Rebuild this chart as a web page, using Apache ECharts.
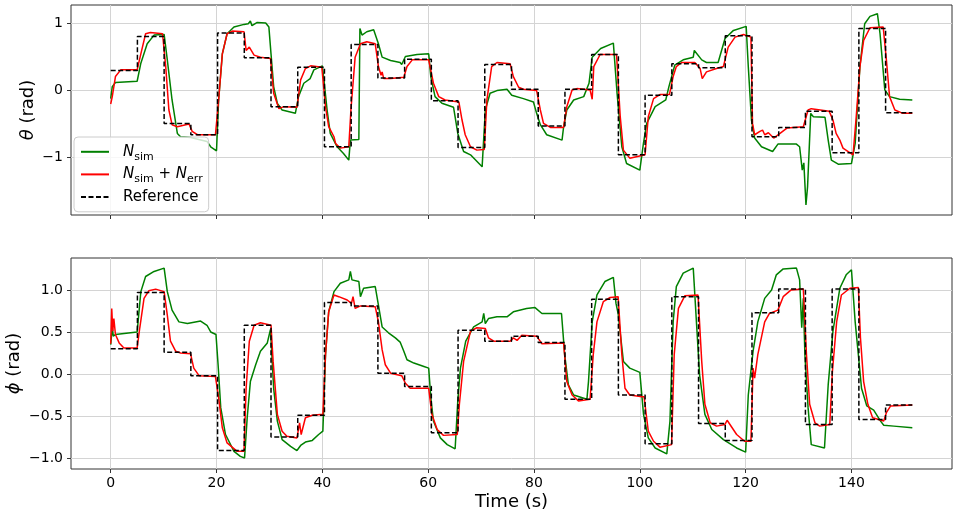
<!DOCTYPE html>
<html>
<head>
<meta charset="utf-8">
<script src="https://cdn.jsdelivr.net/npm/echarts@6/dist/echarts.min.js"></script>
<style>
  html, body { margin: 0; padding: 0; background: #fff; }
  #chart { width: 957px; height: 514px; }
</style>
</head>
<body>
<div id="chart"></div>
<script>
// tick values
const xTicks = [0, 20, 40, 60, 80, 100, 120, 140]
const thetaTicks = [-1, 0, 1]
const phiTicks = [-1, -0.5, 0, 0.5, 1]

// reference set-points, held from each step time to the next
const stepTimes = [0, 5.05, 10.1, 15.15, 20.2, 25.25, 30.3, 35.35, 40.4, 45.45, 50.5, 55.55, 60.6, 65.65, 70.7,
  75.75, 80.8, 85.85, 90.9, 95.95, 101.0, 106.05, 111.1, 116.15, 121.2, 126.25, 131.3, 136.35, 141.4, 146.45, 151.5]
const thetaRef = [0.30, 0.81, -0.49, -0.66, 0.86, 0.49, -0.24, 0.35, -0.84, 0.69, 0.19, 0.47, -0.15, -0.85, 0.39,
  0.02, -0.53, 0.02, 0.54, -0.96, -0.07, 0.40, 0.34, 0.82, -0.69, -0.55, -0.31, -0.93, 0.93, -0.33]
const phiRef = [0.30, 0.97, 0.26, -0.02, -0.91, 0.58, -0.75, -0.49, 0.85, 0.81, 0.01, -0.15, -0.70, 0.52, 0.39,
  0.45, 0.375, -0.30, 0.89, -0.25, -0.83, 0.92, -0.59, -0.79, 0.73, 1.01, -0.60, 1.01, -0.54, -0.37]

// theta, N_sim  [time, rad]
const thetaSim = [[0,-0.12],[0.3,0.06],[0.9,0.12],[5.0,0.14],[5.7,0.41],[6.9,0.70],[8.2,0.83],[10.1,0.84],[10.7,0.46],
  [11.6,-0.14],[12.6,-0.64],[13.2,-0.69],[15.1,-0.70],[18.2,-0.76],[18.9,-0.84],[20.0,-0.90],[20.4,-0.14],[21.1,0.55],
  [22.0,0.85],[23.3,0.95],[25.2,0.99],[26.0,1.00],[26.4,1.04],[26.7,0.97],[27.7,1.02],[29.3,1.01],[29.9,0.95],
  [30.3,0.55],[30.8,0.06],[31.5,-0.19],[32.4,-0.29],[34.9,-0.34],[35.5,-0.09],[36.5,0.11],[37.7,0.18],[38.4,0.31],
  [40.0,0.37],[40.3,0.16],[40.9,-0.29],[41.5,-0.64],[42.8,-0.84],[44.0,-0.94],[45.0,-1.04],[45.3,-0.74],[46.9,-0.73],
  [47.1,0.93],[47.5,0.83],[48.4,0.88],[49.7,0.91],[50.0,0.90],[50.6,0.70],[51.3,0.50],[52.9,0.45],[54.7,0.42],
  [55.0,0.39],[55.7,0.51],[57.9,0.54],[60.1,0.55],[60.5,0.21],[61.3,-0.09],[62.6,-0.19],[64.8,-0.25],[65.6,-0.64],
  [66.7,-0.91],[68.0,-0.96],[70.2,-1.14],[70.8,-0.29],[71.7,-0.04],[73.0,0.0],[74.9,0.02],[75.8,-0.07],[78.0,-0.12],
  [79.9,-0.17],[80.5,-0.34],[81.2,-0.51],[82.4,-0.66],[85.3,-0.74],[85.6,-0.54],[86.2,-0.29],[87.5,-0.14],[89.4,-0.09],
  [90.4,0.11],[91.0,0.50],[92.6,0.63],[95.0,0.71],[95.7,-0.04],[96.6,-0.84],[97.5,-1.09],[100.0,-1.19],[100.7,-0.78],
  [101.3,-0.49],[102.9,-0.24],[104.9,-0.14],[105.5,0.06],[106.6,0.38],[108.2,0.46],[110.1,0.50],[110.3,0.60],
  [111.7,0.46],[112.6,0.42],[114.8,0.42],[116.1,0.78],[117.7,0.90],[120.1,0.96],[120.5,0.36],[121.1,-0.44],
  [121.7,-0.71],[123.0,-0.84],[125.1,-0.91],[126.1,-0.80],[129.6,-0.80],[130.2,-0.84],[130.7,-1.19],[131.0,-1.08],
  [131.4,-1.71],[131.7,-1.44],[132.3,-0.34],[132.8,-0.39],[135.0,-0.40],[135.6,-0.74],[136.2,-1.04],[137.5,-1.10],
  [140.0,-1.09],[140.7,-0.79],[141.6,0.36],[142.5,1.00],[143.5,1.11],[144.9,1.15],[145.4,0.85],[146.3,0.01],
  [147.2,-0.09],[149.1,-0.13],[151.5,-0.14]]

// theta, N_sim + N_err
const thetaErr = [[0,-0.20],[0.3,-0.09],[0.9,0.21],[1.9,0.31],[5.0,0.31],[5.7,0.55],[6.6,0.85],[7.5,0.87],[9.8,0.85],
  [10.4,0.36],[11.0,-0.29],[11.6,-0.51],[12.6,-0.54],[14.8,-0.50],[15.4,-0.61],[16.4,-0.66],[19.8,-0.66],[20.4,-0.14],
  [21.1,0.55],[22.0,0.85],[23.0,0.89],[25.2,0.88],[25.6,0.60],[26.2,0.65],[27.1,0.53],[28.3,0.50],[30.2,0.48],
  [30.8,-0.04],[31.8,-0.27],[32.7,-0.24],[35.2,-0.25],[35.9,0.16],[36.8,0.33],[37.8,0.37],[39.9,0.35],[40.6,-0.24],
  [41.2,-0.54],[42.2,-0.69],[42.5,-0.79],[43.4,-0.86],[45.0,-0.84],[45.4,-0.29],[46.2,0.50],[47.2,0.70],[48.4,0.73],
  [50.0,0.70],[50.6,0.36],[51.1,0.23],[51.3,0.28],[51.6,0.18],[52.9,0.18],[55.4,0.20],[56.0,0.36],[57.0,0.46],
  [60.1,0.46],[61.0,0.11],[62.0,-0.09],[63.2,-0.14],[65.8,-0.17],[66.4,-0.44],[67.0,-0.66],[68.0,-0.84],[69.2,-0.89],
  [70.6,-0.88],[71.1,-0.14],[72.0,0.36],[73.0,0.42],[75.5,0.40],[76.1,0.21],[77.1,0.05],[78.0,0.02],[80.5,0.0],
  [81.2,-0.29],[81.8,-0.49],[83.1,-0.55],[85.6,-0.55],[86.2,-0.24],[87.2,0.01],[88.1,0.03],[90.6,0.01],[91.0,-0.13],
  [91.3,0.36],[92.5,0.54],[95.6,0.54],[96.3,-0.39],[96.9,-0.89],[98.1,-1.01],[101.0,-0.96],[101.6,-0.39],[102.6,-0.12],
  [103.8,-0.06],[105.6,-0.06],[106.3,0.21],[106.9,0.36],[107.9,0.42],[110.4,0.42],[111.4,0.33],[111.8,0.18],
  [112.6,0.28],[114.5,0.33],[115.8,0.36],[116.7,0.65],[118.0,0.80],[119.6,0.84],[121.0,0.80],[121.3,-0.49],
  [121.7,-0.66],[122.7,-0.61],[123.2,-0.59],[123.6,-0.66],[124.3,-0.63],[125.3,-0.71],[126.5,-0.64],[127.8,-0.56],
  [130.9,-0.54],[131.8,-0.29],[132.4,-0.27],[135.8,-0.31],[136.5,-0.44],[137.1,-0.64],[137.8,-0.74],[138.4,-0.86],
  [140.3,-0.96],[140.9,-0.39],[141.6,0.36],[142.3,0.75],[143.5,0.94],[146.0,0.95],[146.6,0.46],[147.2,-0.09],
  [148.2,-0.29],[149.7,-0.34],[151.5,-0.34]]

// phi, N_sim
const phiSim = [[0,0.35],[0.3,0.55],[0.5,0.45],[0.9,0.47],[5.0,0.50],[5.7,0.98],[6.6,1.16],[8.2,1.22],[10.1,1.26],
  [10.7,0.98],[11.6,0.76],[12.9,0.62],[14.5,0.60],[17.0,0.63],[18.2,0.58],[18.9,0.50],[19.9,0.47],[20.3,0.11],
  [20.8,-0.40],[21.7,-0.72],[23.3,-0.92],[24.5,-0.98],[25.3,-1.00],[25.8,-0.52],[26.4,-0.09],[27.4,0.11],[28.3,0.27],
  [29.6,0.37],[30.2,0.53],[30.8,-0.17],[31.5,-0.56],[32.4,-0.78],[34.0,-0.86],[35.2,-0.91],[35.9,-0.85],[36.8,-0.81],
  [38.1,-0.79],[39.3,-0.72],[40.1,-0.68],[40.6,0.23],[41.2,0.74],[42.2,0.98],[43.4,1.08],[45.0,1.12],[45.3,1.22],
  [45.6,1.12],[46.9,1.10],[47.2,0.92],[47.8,1.02],[50.0,1.04],[50.6,0.82],[51.3,0.56],[52.5,0.49],[53.8,0.43],
  [54.7,0.38],[55.4,0.27],[56.0,0.17],[57.3,0.13],[59.2,0.09],[60.1,0.07],[60.5,-0.28],[61.0,-0.56],[62.3,-0.76],
  [63.6,-0.84],[65.1,-0.89],[65.6,-0.32],[66.1,0.07],[67.1,0.39],[68.6,0.56],[70.2,0.62],[70.5,0.72],[70.8,0.60],
  [71.4,0.66],[73.0,0.68],[74.9,0.68],[76.1,0.74],[78.6,0.78],[80.2,0.79],[81.5,0.72],[85.2,0.72],[85.8,0.23],
  [86.5,-0.13],[87.5,-0.25],[90.0,-0.30],[90.3,-0.09],[91.0,0.62],[91.9,0.94],[93.4,1.10],[95.0,1.15],[95.5,0.84],
  [95.9,0.72],[96.9,0.15],[98.1,0.07],[100.0,0.02],[100.7,-0.48],[101.6,-0.76],[102.9,-0.88],[105.1,-0.95],
  [105.7,-0.56],[106.3,0.62],[106.9,1.04],[108.2,1.20],[110.1,1.26],[110.7,0.62],[111.3,-0.01],[112.3,-0.48],
  [113.6,-0.66],[115.8,-0.78],[118.3,-0.88],[120.0,-0.93],[120.5,-0.25],[121.4,0.27],[122.3,0.62],[123.6,0.90],
  [124.9,1.00],[125.8,1.18],[127.1,1.25],[129.6,1.26],[130.2,1.12],[130.6,0.55],[130.9,0.90],[131.2,0.23],
  [131.8,-0.40],[132.4,-0.84],[134.9,-0.88],[135.6,-0.13],[136.5,0.51],[137.8,1.02],[139.0,1.18],[140.0,1.24],
  [140.7,0.62],[141.3,0.23],[141.9,-0.17],[142.9,-0.38],[144.2,-0.43],[145.5,-0.56],[146.1,-0.61],[148.0,-0.62],
  [151.5,-0.64]]

// phi, N_sim + N_err
const phiErr = [[0,0.36],[0.2,0.78],[0.4,0.51],[0.6,0.66],[0.9,0.47],[1.6,0.37],[2.5,0.31],[5.0,0.31],[5.5,0.55],
  [6.3,0.90],[7.2,0.99],[8.5,1.01],[10.1,0.98],[10.7,0.70],[11.3,0.39],[12.3,0.27],[13.2,0.25],[15.1,0.24],[15.7,0.07],
  [16.7,-0.02],[19.8,-0.03],[20.4,-0.28],[21.1,-0.64],[22.0,-0.82],[23.9,-0.92],[25.2,-0.92],[25.6,-0.17],[26.2,0.39],
  [27.1,0.58],[28.3,0.61],[30.3,0.58],[30.7,0.15],[31.5,-0.48],[32.4,-0.68],[33.3,-0.74],[35.2,-0.76],[35.7,-0.58],
  [36.0,-0.72],[36.8,-0.52],[38.1,-0.49],[40.1,-0.48],[40.6,0.23],[41.2,0.74],[42.2,0.94],[43.1,0.92],[44.7,0.88],
  [45.5,0.84],[45.8,0.92],[46.2,0.78],[47.2,0.81],[50.0,0.80],[50.6,0.62],[51.3,0.29],[51.9,0.11],[52.9,0.01],
  [55.0,-0.02],[55.7,-0.11],[56.6,-0.17],[60.1,-0.17],[60.7,-0.48],[61.7,-0.66],[62.9,-0.73],[65.5,-0.72],[65.9,-0.36],
  [66.7,0.15],[68.0,0.51],[69.2,0.55],[70.8,0.54],[71.4,0.43],[72.4,0.39],[75.5,0.39],[76.1,0.43],[76.8,0.40],
  [77.7,0.46],[80.5,0.45],[81.5,0.36],[85.6,0.37],[86.2,-0.09],[87.2,-0.25],[88.4,-0.32],[90.6,-0.30],[91.2,0.23],
  [91.9,0.62],[93.1,0.86],[94.4,0.91],[95.9,0.92],[96.6,0.23],[97.2,-0.17],[98.1,-0.25],[100.4,-0.27],[100.8,-0.27],
  [101.6,-0.68],[102.6,-0.80],[103.8,-0.87],[106.0,-0.84],[106.5,0.23],[107.3,0.78],[108.5,0.93],[111.0,0.94],
  [111.7,0.15],[112.3,-0.36],[113.3,-0.58],[114.5,-0.62],[116.1,-0.60],[116.5,-0.55],[118.3,-0.72],[119.8,-0.80],
  [121.0,-0.80],[121.4,0.07],[121.7,-0.05],[122.3,0.23],[123.6,0.62],[124.5,0.72],[126.1,0.76],[127.1,0.92],
  [128.6,1.00],[130.9,1.01],[131.5,0.23],[132.1,-0.36],[133.1,-0.58],[134.0,-0.62],[135.9,-0.60],[136.4,0.03],
  [137.2,0.62],[138.1,0.94],[139.7,1.02],[141.3,1.03],[141.7,0.43],[142.3,-0.09],[143.1,-0.36],[144.0,-0.52],
  [146.1,-0.56],[146.6,-0.46],[147.4,-0.38],[151.5,-0.37]]

const FONT = 'DejaVu Sans'
const GRID_LINE = '#d4d4d4'
const FRAME = '#333'

const fmt = (v, d) => (v < 0 ? '\u2212' : '') + Math.abs(v).toFixed(d)
const stepData = levels => stepTimes.map((t, i) => [t, levels[Math.min(i, levels.length - 1)]])

const chart = echarts.init(document.getElementById('chart'), null, { renderer: 'canvas' })

const xAxisBase = (gridIndex, showLabels) => ({
  type: 'value',
  gridIndex: gridIndex,
  min: -7.5,
  max: 159,
  axisLine: { show: false, onZero: false },
  axisTick: { show: true, length: 4, lineStyle: { color: FRAME }, customValues: xTicks },
  axisLabel: {
    show: showLabels,
    customValues: xTicks,
    margin: 7,
    fontFamily: FONT,
    fontSize: 14,
    color: '#000'
  },
  splitLine: { show: true, lineStyle: { color: GRID_LINE, width: 1 } }
})

const yAxisBase = (gridIndex, min, max, ticks, digits, name, nameGap) => ({
  type: 'value',
  gridIndex: gridIndex,
  min: min,
  max: max,
  name: name,
  nameLocation: 'middle',
  nameGap: nameGap,
  nameMoveOverlap: false,
  nameTextStyle: {
    fontFamily: FONT,
    fontSize: 18,
    color: '#000',
    rich: { g: { fontFamily: FONT, fontSize: 18, fontStyle: 'italic', color: '#000' } }
  },
  axisLine: { show: false, onZero: false },
  axisTick: { show: true, length: 4, lineStyle: { color: FRAME }, customValues: ticks },
  axisLabel: {
    customValues: ticks,
    margin: 8,
    fontFamily: FONT,
    fontSize: 14,
    color: '#000',
    formatter: v => fmt(v, digits)
  },
  splitLine: { show: true, lineStyle: { color: GRID_LINE, width: 1 } }
})

const line = (name, data, color, axis, extra) => Object.assign({
  name: name,
  type: 'line',
  xAxisIndex: axis,
  yAxisIndex: axis,
  data: data,
  symbol: 'none',
  showSymbol: false,
  lineStyle: { color: color, width: 1.5 },
  itemStyle: { color: color },
  emphasis: { disabled: true }
}, extra || {})

const dashed = { step: 'end', lineStyle: { color: '#000', width: 1.5, type: [5, 2.5] } }

const gridBox = { show: true, borderColor: FRAME, borderWidth: 1, backgroundColor: 'transparent', outerBoundsMode: 'none', containLabel: false }

const option = {
  animation: false,
  backgroundColor: '#fff',
  grid: [
    Object.assign({ left: 71, top: 5, width: 881, height: 210 }, gridBox),
    Object.assign({ left: 71, top: 258, width: 881, height: 211 }, gridBox)
  ],
  xAxis: [
    xAxisBase(0, false),
    Object.assign(xAxisBase(1, true), {
      name: 'Time (s)',
      nameLocation: 'middle',
      nameGap: 24,
      nameMoveOverlap: false,
      nameTextStyle: { fontFamily: FONT, fontSize: 18, color: '#000' }
    })
  ],
  yAxis: [
    yAxisBase(0, -1.86, 1.28, thetaTicks, 0, '{g|θ} (rad)', 34),
    yAxisBase(1, -1.13, 1.38, phiTicks, 1, '{g|ϕ} (rad)', 48)
  ],
  legend: {
    data: ['Nsim', 'Nsim + Nerr', 'Reference'],
    orient: 'vertical',
    left: 74,
    top: 137,
    itemWidth: 28,
    itemHeight: 27,
    itemGap: 1,
    padding: [4, 6, 4, 6],
    backgroundColor: 'rgba(255,255,255,0.8)',
    borderColor: '#cccccc',
    borderWidth: 1,
    borderRadius: 4,
    selectedMode: false,
    itemStyle: { opacity: 0 },
    formatter: name => {
      if (name === 'Nsim') return '{n|N}{s|sim}'
      if (name === 'Nsim + Nerr') return '{n|N}{s|sim}{t| + }{n|N}{s|err}'
      return '{t|Reference}'
    },
    textStyle: {
      fontFamily: FONT,
      fontSize: 15,
      color: '#000',
      padding: [0, 0, 0, 9],
      rich: {
        n: { fontFamily: FONT, fontSize: 15, fontStyle: 'italic', color: '#000', lineHeight: 21 },
        s: { fontFamily: FONT, fontSize: 11, color: '#000', lineHeight: 14, verticalAlign: 'bottom' },
        t: { fontFamily: FONT, fontSize: 15, color: '#000', lineHeight: 21 }
      }
    }
  },
  series: [
    line('Nsim', thetaSim, '#008000', 0),
    line('Nsim + Nerr', thetaErr, '#ff0000', 0),
    line('Reference', stepData(thetaRef), '#000', 0, dashed),
    line('Nsim', phiSim, '#008000', 1),
    line('Nsim + Nerr', phiErr, '#ff0000', 1),
    line('Reference', stepData(phiRef), '#000', 1, dashed)
  ]
}

chart.setOption(option)
</script>
</body>
</html>
